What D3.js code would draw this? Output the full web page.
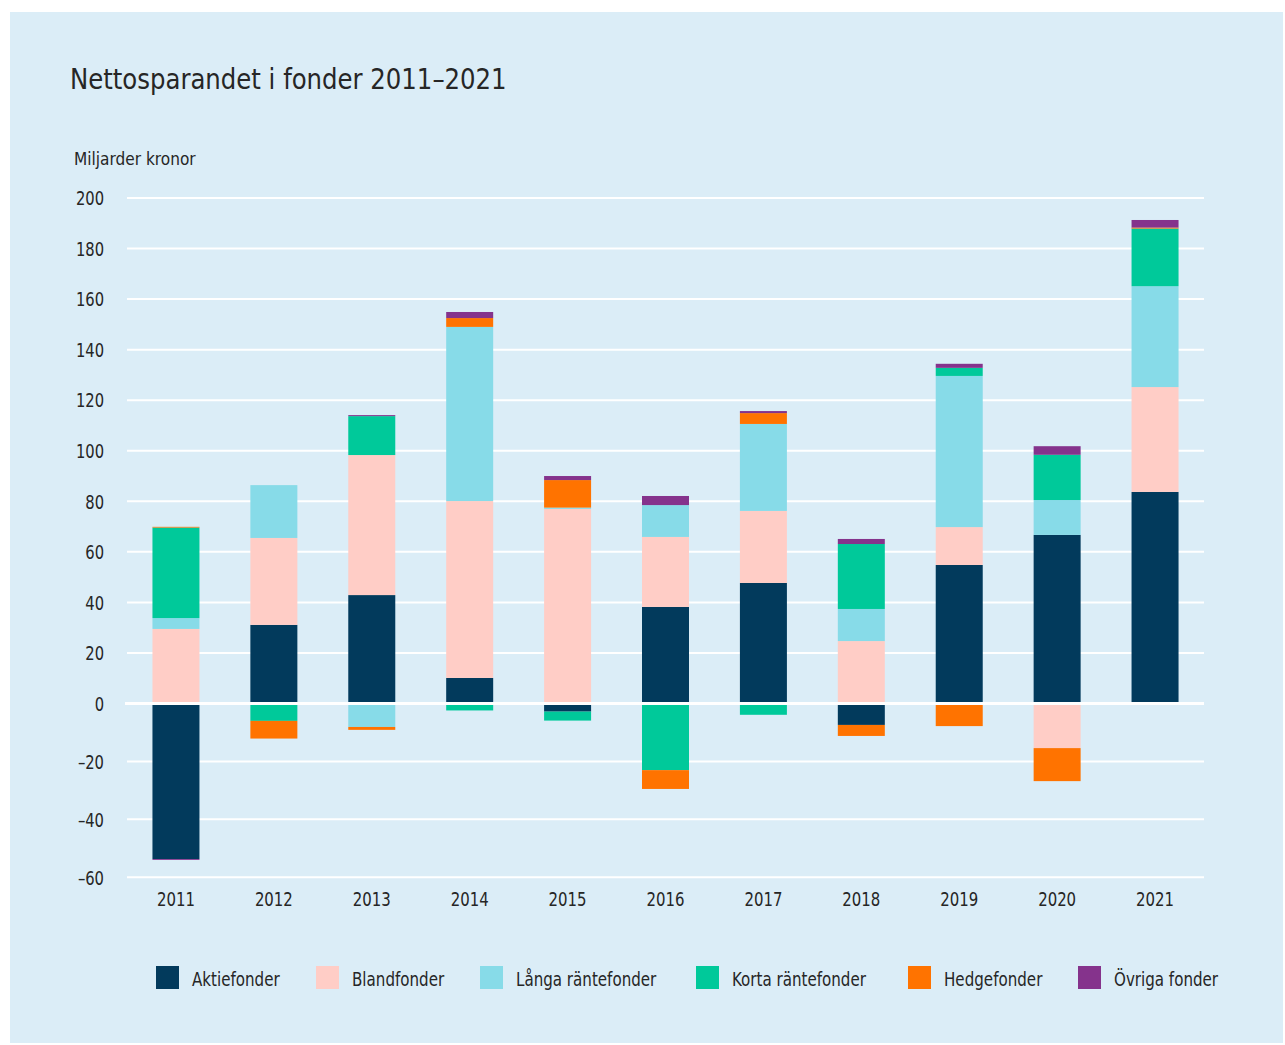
<!DOCTYPE html>
<html>
<head>
<meta charset="utf-8">
<script src="https://cdn.jsdelivr.net/npm/d3@7"></script>
<style>
    body { margin: 0; background: #ffffff; }
    svg text { font-family: "DejaVu Sans Condensed", "DejaVu Sans", sans-serif; fill: #262626; }
</style>
</head>
<body>
<div id="chart"></div>
<script>

// Nettosparande per fondtyp, miljarder kronor
const years = ['2011', '2012', '2013', '2014', '2015', '2016', '2017', '2018', '2019', '2020', '2021'];

const aktiefonder   = [-53.7, 31.1, 42.9, 10.1, -2.8, 38.2, 47.7, -7.4, 54.8, 66.7, 83.7];
const blandfonder   = [29.5, 34.4, 55.4, 70.0, 77.0, 27.7, 28.5, 24.7, 15.0, -15.4, 41.5];
const langaRante    = [4.3, 20.9, -8.1, 68.9, 0.5, 12.6, 34.4, 12.7, 59.8, 13.8, 39.9];
const kortaRante    = [35.8, -6.0, 15.4, -2.4, -3.1, -23.0, -3.9, 25.7, 3.2, 17.9, 22.8];
const hedgefonder   = [0.3, -6.1, -1.0, 3.5, 10.9, -6.5, 4.3, -3.8, -7.8, -11.4, 0.4];
const ovrigaFonder  = [-0.3, 0, 0.4, 2.4, 1.6, 3.6, 0.8, 2.0, 1.6, 3.4, 3.0];

const seriesNames = ['Aktiefonder', 'Blandfonder', 'Långa räntefonder', 'Korta räntefonder', 'Hedgefonder', 'Övriga fonder'];
const seriesValues = [aktiefonder, blandfonder, langaRante, kortaRante, hedgefonder, ovrigaFonder];
const colors = ['#023a5c', '#ffcdc6', '#87dbe8', '#00c99a', '#ff7300', '#85338c'];

const yTicks = [-60, -40, -20, 0, 20, 40, 60, 80, 100, 120, 140, 160, 180, 200];

// the original font is narrower than anything installed, so squeeze the text horizontally
function narrowText(parent, x, y, size, sx) {
    return parent.append('g')
        .attr('transform', `translate(${x}, ${y}) scale(${sx}, 1)`)
        .append('text')
        .style('font-size', size + 'px');
}

function drawChart() {
    const width = 1285, height = 1045;

    // build one row per year for d3.stack
    let data = years.map(function(year, i) {
        let row = {year: year};
        seriesNames.forEach(function(name, j) {
            row[name] = seriesValues[j][i];
        });
        return row;
    });

    const stacked = d3.stack()
        .keys(seriesNames)
        .offset(d3.stackOffsetDiverging)(data);

    const svg = d3.select('#chart')
        .append('svg')
        .attr('width', width)
        .attr('height', height);

    // light blue panel
    svg.append('rect')
        .attr('x', 10)
        .attr('y', 12)
        .attr('width', 1273)
        .attr('height', 1031)
        .style('fill', '#dbedf7');

    // the negative part of the axis is stretched more than the positive part
    const y = d3.scaleLinear()
        .domain([-60, 0, 200])
        .range([877.3, 703.5, 198]);

    const x = d3.scaleBand()
        .domain(years)
        .range([127, 1204])
        .paddingInner(0.52)
        .paddingOuter(0.26);

    // gridlines
    svg.append('g')
        .selectAll('line')
        .data(yTicks.filter(d => d !== 0))
        .enter()
        .append('line')
        .attr('x1', 127)
        .attr('x2', 1204)
        .attr('y1', d => y(d))
        .attr('y2', d => y(d))
        .style('stroke', '#ffffff')
        .style('stroke-width', 2);

    // tick labels
    const yAxis = svg.append('g');
    yTicks.forEach(function(t) {
        narrowText(yAxis, 104, y(t), 20, 0.82)
            .attr('dy', '0.36em')
            .attr('text-anchor', 'end')
            .text(t < 0 ? '–' + Math.abs(t) : t);
    });

    // bars
    svg.append('g')
        .selectAll('g')
        .data(stacked)
        .enter()
        .append('g')
        .style('fill', (d, i) => colors[i])
        .selectAll('rect')
        .data(d => d)
        .enter()
        .append('rect')
        .attr('x', d => x(d.data.year))
        .attr('width', x.bandwidth())
        .attr('y', d => y(Math.max(d[0], d[1])))
        .attr('height', d => Math.abs(y(d[0]) - y(d[1])));

    // zero line on top of the bars
    svg.append('line')
        .attr('x1', 125)
        .attr('x2', 1204)
        .attr('y1', y(0))
        .attr('y2', y(0))
        .style('stroke', '#ffffff')
        .style('stroke-width', 3);

    // x axis labels
    const xAxis = svg.append('g');
    years.forEach(function(yr) {
        narrowText(xAxis, x(yr) + x.bandwidth() / 2, 906, 20, 0.83)
            .attr('text-anchor', 'middle')
            .text(yr);
    });

    // title and unit
    narrowText(svg, 70, 89, 29, 0.935)
        .text('Nettosparandet i fonder 2011–2021');

    narrowText(svg, 74, 165, 18, 0.95)
        .text('Miljarder kronor');

    // legend
    const legendX = [156, 316, 480, 696, 908, 1078];
    seriesNames.forEach(function(name, i) {
        const item = svg.append('g')
            .attr('transform', `translate(${legendX[i]}, 966)`);
        item.append('rect')
            .attr('width', 23)
            .attr('height', 23)
            .style('fill', colors[i]);
        narrowText(item, 36, 20, 20, 0.84)
            .text(name);
    });
}

drawChart();
</script>
</body>
</html>
